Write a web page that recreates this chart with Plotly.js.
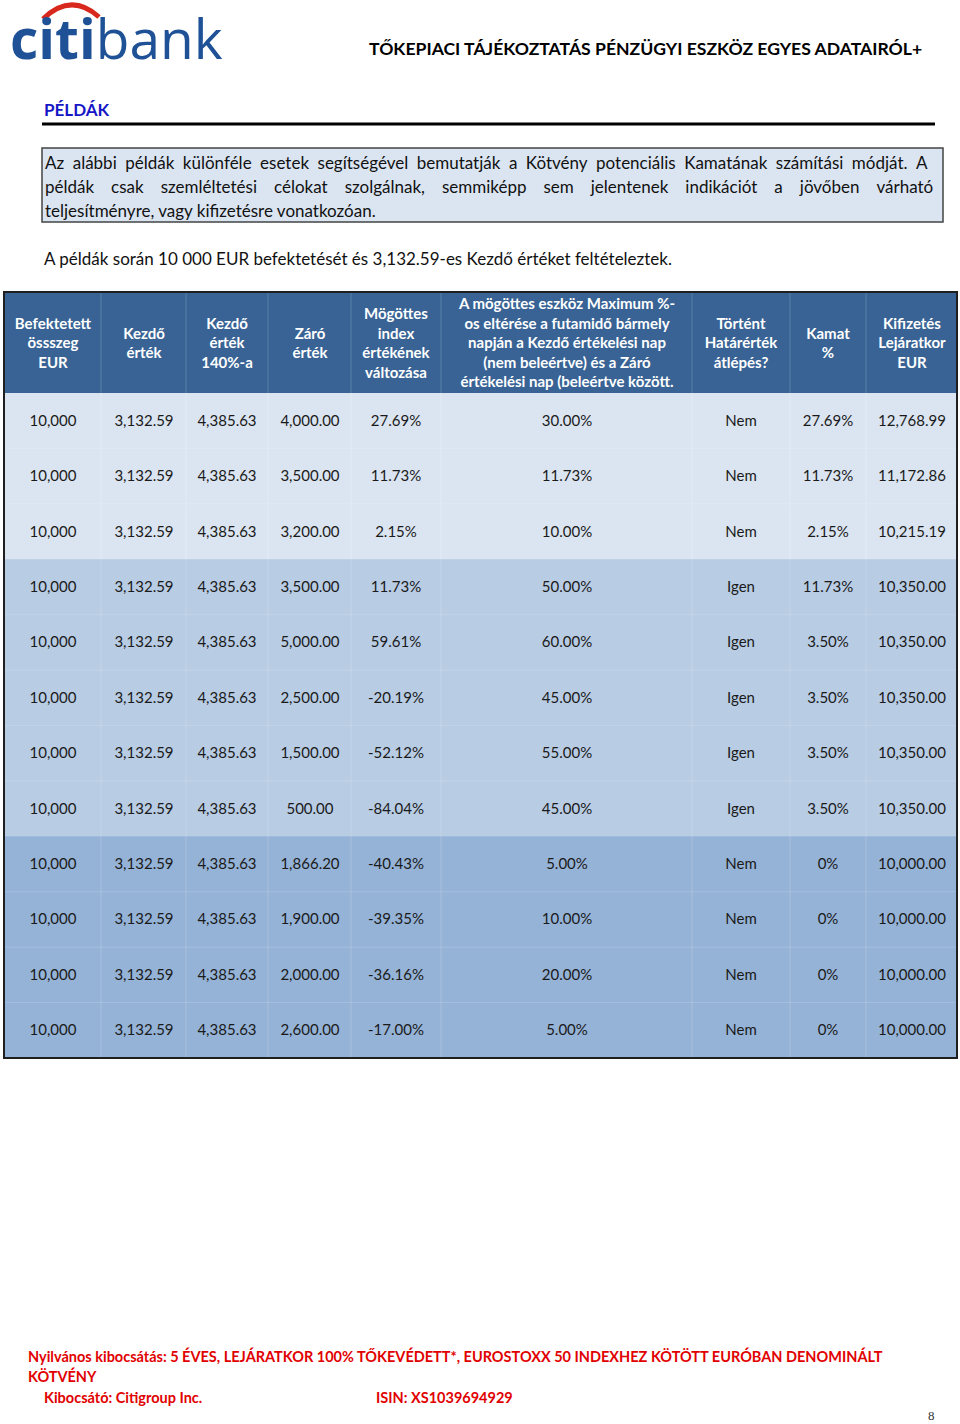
<!DOCTYPE html>
<html><head><meta charset="utf-8">
<script src="https://cdn.plot.ly/plotly-3.0.1.min.js"></script>
<style>html,body{margin:0;padding:0;background:#fff}#chart{width:960px;height:1424px}</style>
</head><body><div id="chart"></div>
<script>
// ---- DATA ----
const headers = [
  'Befektetett<br>össszeg<br>EUR',
  'Kezdő<br>érték',
  'Kezdő<br>érték<br>140%-a',
  'Záró<br>érték',
  'Mögöttes<br>index<br>értékének<br>változása',
  'A mögöttes eszköz Maximum %-<br>os eltérése a futamidő bármely<br>napján a Kezdő értékelési nap<br>(nem beleértve) és a Záró<br>értékelési nap (beleértve között.',
  'Történt<br>Határérték<br>átlépés?',
  'Kamat<br>%',
  'Kifizetés<br>Lejáratkor<br>EUR'
];
const invested   = [10000,10000,10000,10000,10000,10000,10000,10000,10000,10000,10000,10000];
const startVal   = [3132.59,3132.59,3132.59,3132.59,3132.59,3132.59,3132.59,3132.59,3132.59,3132.59,3132.59,3132.59];
const start140   = [4385.63,4385.63,4385.63,4385.63,4385.63,4385.63,4385.63,4385.63,4385.63,4385.63,4385.63,4385.63];
const closeVal   = [4000,3500,3200,3500,5000,2500,1500,500,1866.20,1900,2000,2600];
const indexChange= [27.69,11.73,2.15,11.73,59.61,-20.19,-52.12,-84.04,-40.43,-39.35,-36.16,-17.00];
const maxDev     = [30.00,11.73,10.00,50.00,60.00,45.00,55.00,45.00,5.00,10.00,20.00,5.00];
const barrier    = ['Nem','Nem','Nem','Igen','Igen','Igen','Igen','Igen','Nem','Nem','Nem','Nem'];
const coupon     = [27.69,11.73,2.15,11.73,3.50,3.50,3.50,3.50,0,0,0,0];
const payout     = [12768.99,11172.86,10215.19,10350.00,10350.00,10350.00,10350.00,10350.00,10000.00,10000.00,10000.00,10000.00];
const rowGroup   = [1,1,1,2,2,2,2,2,3,3,3,3];

// ---- LAYOUT GEOMETRY (px) ----
const colEdges = [4,101,186,268,351,441,692,790,866,957];
const headTop = 292, headBottom = 393, tableBottom = 1058;
const nRows = closeVal.length;
const rowH = (tableBottom - headBottom) / nRows;
const rowEdges = [];
for (let i = 0; i <= nRows; i++) rowEdges.push(headBottom + i * rowH);

const f2 = v => v.toLocaleString('en-US',{minimumFractionDigits:2,maximumFractionDigits:2});
const f0 = v => v.toLocaleString('en-US',{maximumFractionDigits:0});
const pct = v => (v === 0 ? '0%' : v.toFixed(2) + '%');

const bodyText = [], bodyZ = [];
for (let i = 0; i < nRows; i++) {
  bodyText.push([f0(invested[i]), f2(startVal[i]), f2(start140[i]), f2(closeVal[i]),
    pct(indexChange[i]), pct(maxDev[i]), barrier[i], pct(coupon[i]), f2(payout[i])]);
  bodyZ.push(headers.map(() => rowGroup[i]));
}

const FONT = 'Lato, "Open Sans", sans-serif';

const headerTrace = {
  type: 'heatmap', x: colEdges, y: [headTop, headBottom],
  z: [headers.map(() => 0)], text: [headers], texttemplate: '<b>%{text}</b>',
  textfont: {family: FONT, size: 15, color: '#ffffff'},
  colorscale: [[0,'#386394'],[1,'#386394']], zmin: 0, zmax: 1,
  showscale: false, hoverinfo: 'skip'
};
const bodyTrace = {
  type: 'heatmap', x: colEdges, y: rowEdges,
  z: bodyZ, text: bodyText, texttemplate: '%{text}',
  textfont: {family: FONT, size: 15, color: '#1a1a1a'},
  colorscale: [[0,'#dbe5f1'],[0.5,'#b8cce4'],[1,'#95b3d7']], zmin: 1, zmax: 3,
  showscale: false, hoverinfo: 'skip'
};

const shapes = [];
colEdges.slice(1,-1).forEach(x => shapes.push({type:'line', x0:x, x1:x, y0:headTop, y1:tableBottom,
  line:{color:'rgba(255,255,255,0.18)', width:1}}));
rowEdges.slice(1,-1).forEach(y => shapes.push({type:'line', x0:colEdges[0], x1:colEdges[colEdges.length-1], y0:y, y1:y,
  line:{color:'rgba(255,255,255,0.15)', width:1}}));
shapes.push({type:'rect', x0:4, x1:957, y0:headTop, y1:tableBottom, line:{color:'#1f1f1f', width:2}});
shapes.push({type:'line', x0:42, x1:935, y0:124, y1:124, line:{color:'#000', width:3}});
shapes.push({type:'rect', x0:42, x1:943, y0:148, y1:222, fillcolor:'#dbe5f1', line:{color:'#444', width:1.5}, layer:'below'});
shapes.push({type:'path', path:'M 43 19 Q 71 -8 99 17', line:{color:'#d8271c', width:5}});

const ann = (text, x, y, opts) => Object.assign({text, x, y, xref:'x', yref:'y', showarrow:false,
  xanchor:'left', yanchor:'middle', font:{family:FONT, size:17, color:'#111'}}, opts||{});
const en = '\u2002';
const line1 = 'Az alábbi példák különféle esetek segítségével bemutatják a Kötvény potenciális Kamatának számítási módját. A';
const line2 = 'példák csak szemléltetési célokat szolgálnak, semmiképp sem jelentenek indikációt a jövőben várható';
const red = {family:FONT, size:14.5, color:'#e10000'};
const annotations = [
  ann('<b>citi</b>bank', 8, 37, {font:{family:'"Open Sans", Lato, sans-serif', size:55, color:'#1f5196'}}),
  ann('<b>TŐKEPIACI TÁJÉKOZTATÁS PÉNZÜGYI ESZKÖZ EGYES ADATAIRÓL+</b>', 367, 48, {font:{family:FONT, size:17.6, color:'#000'}}),
  ann('<b>PÉLDÁK</b>', 42, 109, {font:{family:FONT, size:17, color:'#1616c6'}}),
  ann(line1.split(' ').join(en), 43, 162),
  ann(line2.split(' ').join(en + en), 43, 186),
  ann('teljesítményre, vagy kifizetésre vonatkozóan.', 43, 210),
  ann('A példák során 10 000 EUR befektetését és 3,132.59-es Kezdő értéket feltételeztek.', 42, 258),
  ann('<b>Nyilvános kibocsátás: 5 ÉVES, LEJÁRATKOR 100% TŐKEVÉDETT*, EUROSTOXX 50 INDEXHEZ KÖTÖTT EURÓBAN DENOMINÁLT</b>', 26, 1356, {font:red}),
  ann('<b>KÖTVÉNY</b>', 26, 1376, {font:red}),
  ann('<b>Kibocsátó: Citigroup Inc.</b>', 42, 1397, {font:red}),
  ann('<b>ISIN: XS1039694929</b>', 374, 1397, {font:red}),
  ann('8', 926, 1415, {font:{family:'"Liberation Serif", serif', size:13, color:'#333'}})
];

const layout = {
  width: 960, height: 1424, margin: {l:0, r:0, t:0, b:0},
  paper_bgcolor: '#ffffff', plot_bgcolor: '#ffffff', showlegend: false,
  xaxis: {range:[0,960], visible:false, fixedrange:true},
  yaxis: {range:[1424,0], visible:false, fixedrange:true},
  shapes, annotations
};
Plotly.newPlot('chart', [headerTrace, bodyTrace], layout, {displayModeBar:false, staticPlot:true});
</script></body></html>
